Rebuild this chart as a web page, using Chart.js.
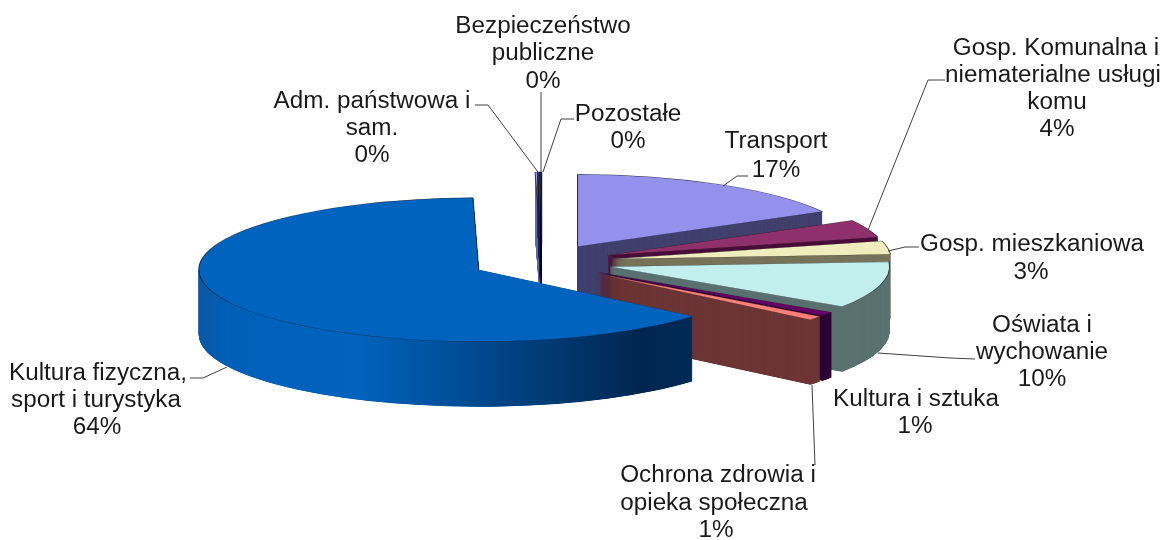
<!DOCTYPE html>
<html>
<head>
<meta charset="utf-8">
<style>
html, body { margin: 0; padding: 0; background: #fff; }
#chart-box { width: 1164px; height: 540px; }
</style>
<script src="https://cdn.jsdelivr.net/npm/chart.js@4/dist/chart.umd.min.js"></script>
</head>
<body>
<div id="chart-box"><canvas id="pie-chart"></canvas></div>
<script>
// slice values, clockwise from 12 o'clock
var categories = ['Transport', 'Gosp. Komunalna i niematerialne usługi komu', 'Gosp. mieszkaniowa', 'Oświata i wychowanie', 'Kultura i sztuka', 'Ochrona zdrowia i opieka społeczna', 'Kultura fizyczna, sport i turystyka', 'Adm. państwowa i sam.', 'Bezpieczeństwo publiczne', 'Pozostałe'];
var values = [17, 4, 3, 10.49, 0.9, 0.9, 63.68, 0.13, 0.1, 0.1];
var topColors = ['#9491ec', '#90306a', '#efecbe', '#c2eeee', '#660066', '#ff8078', '#0063bd', '#a9aee8', '#3d3f96', '#1a1f60'];
var wallColors = ['#42406e', '#4a0f3a', '#77745a', '#5a7270', '#2c0038', '#6e3636', '#003060', '#6a6c9c', '#22245c', '#0a0a30'];

// picture space: where the exploded pie sits and how it is squashed
var pieX = 542, pieY = 262, pieRx = 280, pieRy = 72, pieDepth = 65;
var explode = 0.25; // share of the radius
// back to front
var drawOrder = [0, 1, 2, 3, 4, 5, 7, 8, 9, 6];

// text lines per label: [centre x, baseline y, text]
var labelLines = [
	[543, 33, 'Bezpieczeństwo'], [543, 60, 'publiczne'], [543, 88, '0%'],
	[372, 108, 'Adm. państwowa i'], [372, 135, 'sam.'], [372, 162, '0%'],
	[628, 121, 'Pozostałe'], [628, 148, '0%'],
	[776, 148, 'Transport'], [776, 177, '17%'],
	[1056, 55, 'Gosp. Komunalna i'], [1053, 82, 'niematerialne usługi'], [1057, 109, 'komu'], [1057, 136, '4%'],
	[1032, 251, 'Gosp. mieszkaniowa'], [1031, 279, '3%'],
	[1042, 332, 'Oświata i'], [1042, 359, 'wychowanie'], [1042, 386, '10%'],
	[916, 406, 'Kultura i sztuka'], [915, 433, '1%'],
	[718, 482, 'Ochrona zdrowia i'], [714, 510, 'opieka społeczna'], [716, 537, '1%'],
	[98, 380, 'Kultura fizyczna,'], [96, 407, 'sport i turystyka'], [97, 434, '64%']
];
var leaders = [
	[[475, 105], [488, 105], [538, 172]],
	[[541, 92], [541, 172]],
	[[574, 119], [561, 119], [543, 172]],
	[[748, 176], [737, 176], [723, 186]],
	[[945, 80], [928, 80], [868, 230]],
	[[919, 247], [905, 247], [888, 251]],
	[[975, 359], [950, 358], [878, 353]],
	[[812, 385], [815, 465]],
	[[190, 378], [203, 378], [227, 367]]
];

function pieTransform(ctx, chart, arc, drop) {
	var half = (arc.startAngle + arc.endAngle) / 2;
	var push = arc.outerRadius * explode;
	ctx.translate(pieX, pieY + drop);
	ctx.scale(pieRx / arc.outerRadius, pieRy / arc.outerRadius);
	ctx.translate(Math.cos(half) * push, Math.sin(half) * push);
	ctx.translate(-arc.x, -arc.y);
}

// wall of the big slice gets the light to dark shading of the original
function wallFill(ctx, chart, arc, i) {
	if (i !== 6) return wallColors[i];
	var half = (arc.startAngle + arc.endAngle) / 2;
	var sx = pieRx / arc.outerRadius;
	var push = arc.outerRadius * explode;
	var toLocal = function(x) { return (x - pieX) / sx - Math.cos(half) * push + arc.x; };
	var g = ctx.createLinearGradient(toLocal(201), 0, toLocal(691), 0);
	g.addColorStop(0, '#0a58a6');
	g.addColorStop(0.06, '#0060b8');
	g.addColorStop(0.32, '#0063bd');
	g.addColorStop(0.9, '#00264f');
	g.addColorStop(1, '#002a56');
	return g;
}

var pie3d = {
	id: 'pie3d',
	beforeDatasetDraw: function(chart) {
		var ctx = chart.ctx;
		var arcs = chart.getDatasetMeta(0).data;
		drawOrder.forEach(function(i) {
			var arc = arcs[i];
			var own = arc.options;
			var fill = wallFill(ctx, chart, arc, i);
			arc.options = Object.assign({}, own, { backgroundColor: fill, borderWidth: 0 });
			// small steps, thin wedges show stripes otherwise
			for (var d = pieDepth; d > 0; d -= 0.25) {
				ctx.save();
				pieTransform(ctx, chart, arc, d);
				arc.draw(ctx);
				ctx.restore();
			}
			arc.options = own;
			ctx.save();
			pieTransform(ctx, chart, arc, 0);
			arc.draw(ctx);
			ctx.restore();
		});
		return false;
	},
	afterDraw: function(chart) {
		var ctx = chart.ctx;
		ctx.save();
		ctx.strokeStyle = '#404040';
		ctx.lineWidth = 1;
		leaders.forEach(function(pts) {
			ctx.beginPath();
			pts.forEach(function(p, k) {
				if (k === 0) ctx.moveTo(p[0], p[1]);
				else ctx.lineTo(p[0], p[1]);
			});
			ctx.stroke();
		});
		ctx.fillStyle = '#1a1a1a';
		ctx.font = '23px "Liberation Sans"';
		ctx.textAlign = 'center';
		labelLines.forEach(function(l) {
			ctx.save();
			ctx.translate(l[0], l[1]);
			ctx.scale(1.055, 1);
			ctx.fillText(l[2], 0, 0);
			ctx.restore();
		});
		ctx.restore();
	}
};

new Chart(document.getElementById('pie-chart').getContext('2d'), {
	type: 'pie',
	data: {
		labels: categories,
		datasets: [{
			data: values,
			backgroundColor: topColors,
			borderColor: 'rgba(30, 30, 40, 0.8)',
			borderWidth: 1,
			clip: false
		}]
	},
	options: {
		responsive: true,
		maintainAspectRatio: false,
		animation: false,
		layout: { padding: 0 },
		plugins: { legend: { display: false }, tooltip: { enabled: false } }
	},
	plugins: [pie3d]
});
</script>
</body>
</html>
